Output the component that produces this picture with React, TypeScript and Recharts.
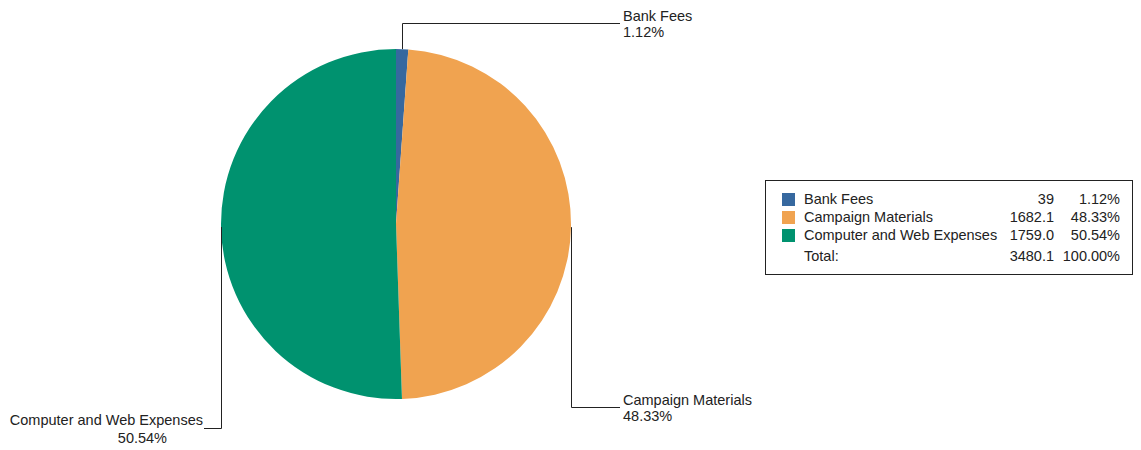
import React from 'react';
import { PieChart, Pie, Cell, Legend } from 'recharts';

const categories = ['Bank Fees', 'Campaign Materials', 'Computer and Web Expenses'];
const amounts = [39, 1682.1, 1759.0];
const amountLabels = ['39', '1682.1', '1759.0'];
const percentLabels = ['1.12%', '48.33%', '50.54%'];
const totalLabel = '3480.1';
const totalPercent = '100.00%';
const colors = ['#36689f', '#f0a350', '#00926f'];

const data = categories.map((name, i) => ({ name, value: amounts[i] }));

const FONT = 'Liberation Sans, Arial, sans-serif';

// leader line: from slice edge go vertical to a row, then horizontal out
const renderLabel = (props: any) => {
  const { cx, cy, midAngle, outerRadius, index } = props;
  const rad = Math.PI / 180;
  const x0 = Math.round(cx + outerRadius * Math.cos(-midAngle * rad)) + 0.5;
  const y0 = cy + outerRadius * Math.sin(-midAngle * rad);
  const rowY = [cy - 201, cy + 183, cy + 204][index] + 0.5;
  const right = x0 >= cx;
  const x1 = right ? 620 : 204;
  const name = categories[index];
  const pct = percentLabels[index];
  return (
    <g>
      <polyline
        points={`${x0},${y0} ${x0},${rowY} ${x1},${rowY}`}
        fill="none"
        stroke="#222"
        strokeWidth={1}
      />
      {right ? (
        <text x={x1 + 3} y={rowY - 3} fontSize={14.5} fontFamily={FONT} fill="#222">
          <tspan x={x1 + 3}>{name}</tspan>
          <tspan x={x1 + 3} dy={16}>{pct}</tspan>
        </text>
      ) : (
        <text y={rowY - 4} fontSize={14.5} fontFamily={FONT} fill="#222" textAnchor="end">
          <tspan x={x1 - 1}>{name}</tspan>
          <tspan x={x1 - 37} dy={18}>{pct}</tspan>
        </text>
      )}
    </g>
  );
};

function LegendTable() {
  const rowStyle: React.CSSProperties = {
    display: 'flex',
    alignItems: 'center',
    height: 18,
    whiteSpace: 'nowrap',
  };
  return (
    <div
      style={{
        border: '1px solid #222',
        width: 368,
        height: 95,
        boxSizing: 'border-box',
        padding: '9px 0 0 16px',
        fontFamily: FONT,
        fontSize: 14.5,
        color: '#222',
        background: '#fff',
      }}
    >
      {categories.map((name, i) => (
        <div key={name} style={rowStyle}>
          <span style={{ width: 13, height: 13, background: colors[i], display: 'inline-block', marginRight: 9 }} />
          <span style={{ width: 200 }}>{name}</span>
          <span style={{ width: 50, textAlign: 'right' }}>{amountLabels[i]}</span>
          <span style={{ width: 66, textAlign: 'right' }}>{percentLabels[i]}</span>
        </div>
      ))}
      <div style={{ ...rowStyle, marginTop: 3 }}>
        <span style={{ width: 22 }} />
        <span style={{ width: 200 }}>Total:</span>
        <span style={{ width: 50, textAlign: 'right' }}>{totalLabel}</span>
        <span style={{ width: 66, textAlign: 'right' }}>{totalPercent}</span>
      </div>
    </div>
  );
}

export default function App() {
  return (
    <div style={{ position: 'absolute', left: 0, top: 0, background: '#fff' }}>
      <PieChart width={1141} height={450} margin={{ top: 0, right: 0, bottom: 0, left: 0 }}>
        <Pie
          data={data}
          dataKey="value"
          nameKey="name"
          cx={396}
          cy={224}
          outerRadius={175}
          startAngle={90}
          endAngle={-270}
          stroke="none"
          label={renderLabel}
          labelLine={false}
          isAnimationActive={false}
        >
          {data.map((d, i) => (
            <Cell key={d.name} fill={colors[i]} />
          ))}
        </Pie>
        <Legend
          content={() => <LegendTable />}
          wrapperStyle={{ left: 765, top: 180, width: 368, height: 95 }}
        />
      </PieChart>
    </div>
  );
}
